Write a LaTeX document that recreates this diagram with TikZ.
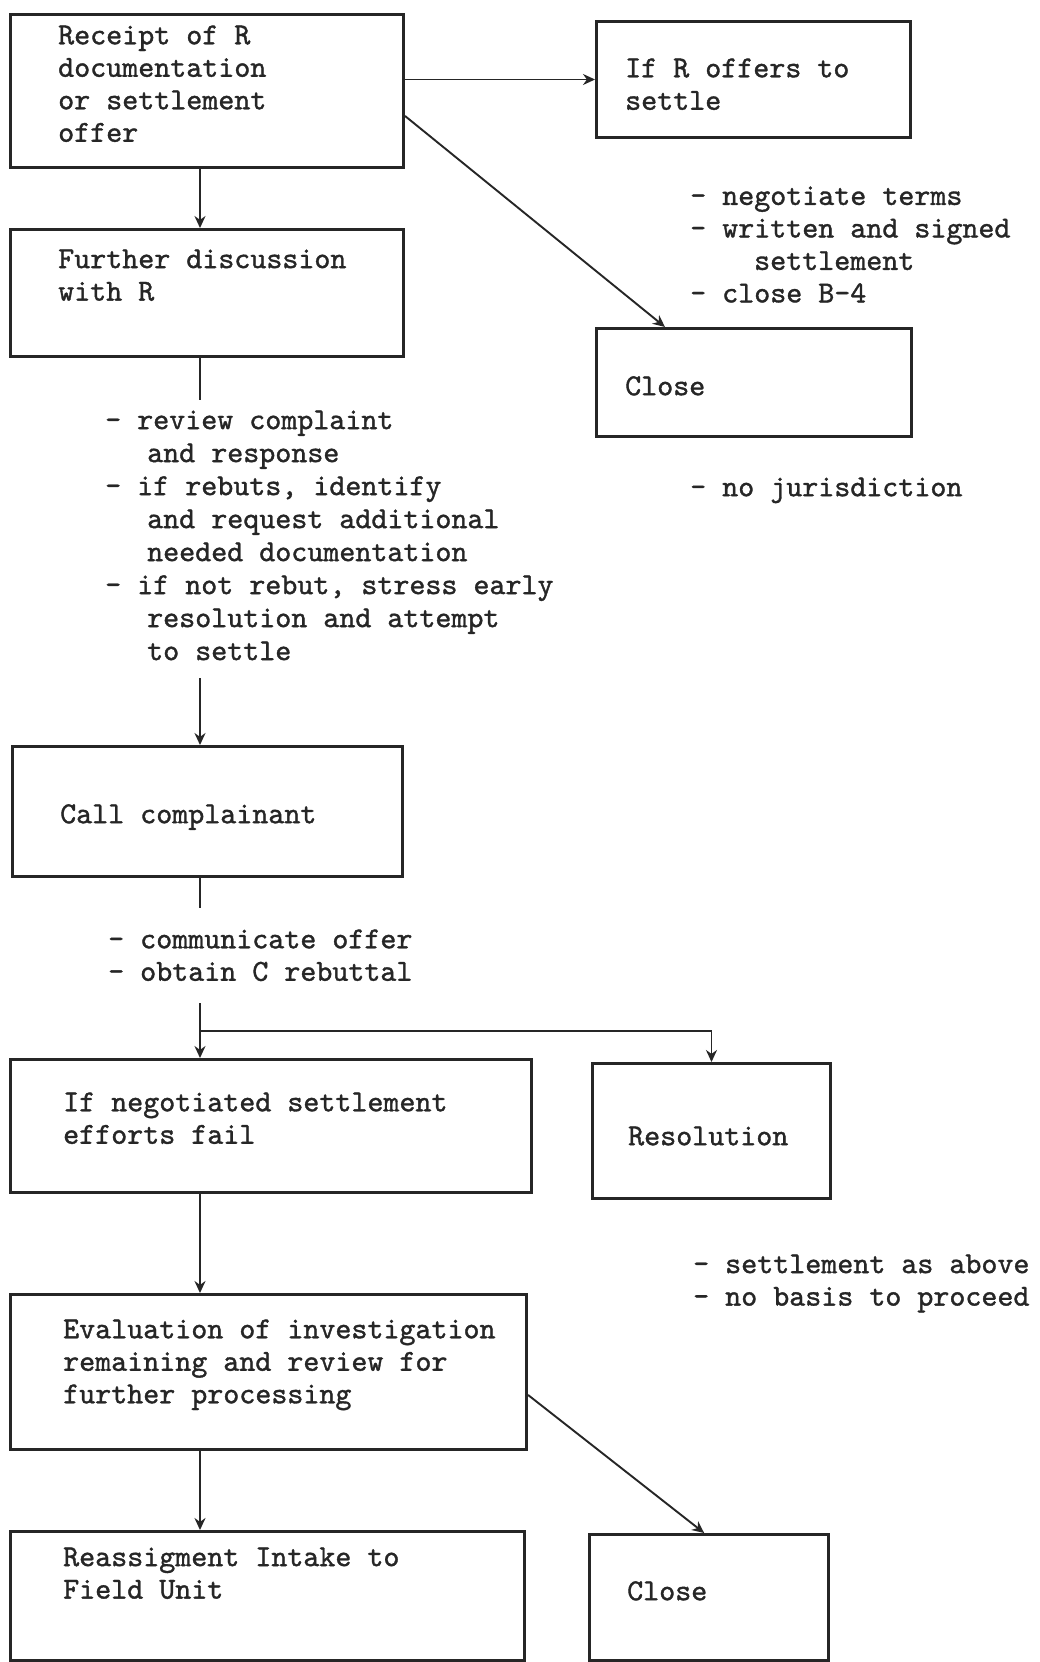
\documentclass[tikz,border=0pt]{standalone}
\usepackage{fontspec}
\newfontfamily\tw{lmmono10-regular.otf}[FakeBold=1.2]
\usetikzlibrary{calc,arrows.meta}
\begin{document}
\begin{tikzpicture}[x=1pt,y=-1pt,
  box/.style={draw=black!85, line width=3pt, rectangle, inner sep=0pt, anchor=north west},
  txt/.style={font=\tw\fontsize{30.5}{32.5}\selectfont, text=black!85, align=left,
              inner sep=0pt, anchor=north west, yshift=22.75pt, execute at begin node=\strut},
  ln/.style={draw=black!85, line width=1.9pt},
  arr/.style={ln, -{Stealth[length=12pt,width=11pt]}}]
\useasboundingbox (0,0) rectangle (1040,1662);
\fill[white] (0,0) rectangle (1040,1662);

% boxes
\node[box, minimum width=393pt, minimum height=153pt] (b1) at (9,13) {};
\node[box, minimum width=314pt, minimum height=116pt] (b3) at (595,20) {};
\node[box, minimum width=393pt, minimum height=127pt] (b2) at (9,228) {};
\node[box, minimum width=315pt, minimum height=108pt] (c1) at (595,327) {};
\node[box, minimum width=390pt, minimum height=130pt] (b4) at (11,745) {};
\node[box, minimum width=521pt, minimum height=133pt] (b5) at (9,1058) {};
\node[box, minimum width=238pt, minimum height=135pt] (res) at (591,1062) {};
\node[box, minimum width=516pt, minimum height=155pt] (b6) at (9,1293) {};
\node[box, minimum width=514pt, minimum height=129pt] (b7) at (9,1530) {};
\node[box, minimum width=239pt, minimum height=126pt] (c2) at (588,1533) {};

% texts
\node[txt] (t1) at (58,48) {Receipt of R\\documentation\\or settlement\\offer};
\node[txt] (t3) at (625,81) {If R offers to\\settle};
\node[txt] (t2) at (58,272) {Further discussion\\with R};
\node[txt] (tc1) at (625,395) {Close};
\node[txt] (n1) at (690,209) {- negotiate terms\\- written and signed\\\hspace*{64pt}settlement\\- close B-4};
\node[txt] (nj) at (690,496) {- no jurisdiction};
\node[txt,font=\tw\fontsize{30.5}{33}\selectfont] (n2) at (105,433) {- review complaint\\\hspace*{42pt}and response\\- if rebuts, identify\\\hspace*{42pt}and request additional\\\hspace*{42pt}needed documentation\\- if not rebut, stress early\\\hspace*{42pt}resolution and attempt\\\hspace*{42pt}to settle};
\node[txt] (t4) at (60,823) {Call complainant};
\node[txt] (n3) at (108,952) {- communicate offer\\- obtain C rebuttal};
\node[txt] (t5) at (63,1115) {If negotiated settlement\\efforts fail};
\node[txt] (tres) at (628,1145) {Resolution};
\node[txt] (n4) at (693,1277) {- settlement as above\\- no basis to proceed};
\node[txt] (t6) at (63,1342) {Evaluation of investigation\\remaining and review for\\further processing};
\node[txt] (t7) at (63,1570) {Reassigment Intake to\\Field Unit};
\node[txt] (tc2) at (627,1600) {Close};

% connectors
\coordinate (sp) at (200,0);
\draw[arr] (b1.south -| sp) -- (b2.north -| sp);
\draw[arr] (b1.east |- b3.west) -- (b3.west);
\draw[arr] ($(b1.north east)!0.66!(b1.south east)$) -- ($(c1.north west)!0.22!(c1.north east)$);
\coordinate (e2) at (200,400);
\draw[ln] (b2.south -| sp) -- (e2);
\coordinate (s4) at (200,678);
\draw[arr] (s4) -- (b4.north -| sp);
\coordinate (e4) at (200,908);
\draw[ln] (b4.south -| sp) -- (e4);
\coordinate (s5) at (200,1003);
\coordinate (br) at (200,1031);
\draw[arr] (s5) -- (b5.north -| sp);
\draw[arr] (br) -| (res.north);
\draw[arr] (b5.south -| sp) -- (b6.north -| sp);
\draw[arr] (b6.south -| sp) -- (b7.north -| sp);
\draw[arr] ($(b6.north east)!0.645!(b6.south east)$) -- ($(c2.north west)!0.48!(c2.north east)$);
\end{tikzpicture}
\end{document}
